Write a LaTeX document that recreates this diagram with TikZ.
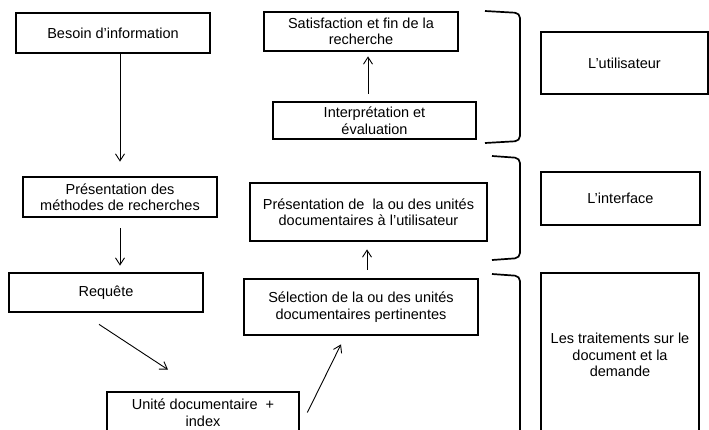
\documentclass[tikz,border=0pt]{standalone}
\usepackage{fontspec}
\setmainfont{Liberation Sans}
\usetikzlibrary{arrows.meta}
\begin{document}
\begin{tikzpicture}[x=1pt,y=-1pt,
  box/.style={draw, line width=2.7pt, align=center, inner sep=0pt,
    font=\fontsize{14.5}{16.5}\selectfont},
  arr/.style={line width=0.9pt, -{Straight Barb[length=7pt,width=9pt]}},
  brace/.style={line width=1.7pt, rounded corners=5pt}]
  \clip (0,0) rectangle (709,429);
  \fill[white] (0,0) rectangle (709,429);

  % left column
  \node[box, minimum width=194, minimum height=40] (besoin) at (113,33) {Besoin d’information};
  \node[box, minimum width=194, minimum height=40] (presmeth) at (120,197) {Présentation des\\méthodes de recherches};
  \node[box, minimum width=194, minimum height=39] (requete) at (106,292.5) {Requête};
  \node[box, minimum width=192, minimum height=41] (unite) at (203,412.5) {Unité documentaire\ \ +\\index};

  % middle column
  \node[box, minimum width=234, minimum height=56] (select) at (361,307) {Sélection de la ou des unités\\documentaires pertinentes};
  \node[box, minimum width=237, minimum height=58] (presunit) at (368.5,212) {Présentation de\ \ la ou des unités\\documentaires à l’utilisateur};
  \node[box, minimum width=203, minimum height=37] (interp) at (374.5,120.5) {Interprétation et\\évaluation};
  \node[box, minimum width=194, minimum height=39] (satis) at (361,31.5) {Satisfaction et fin de la\\recherche};

  % right column
  \node[box, minimum width=167, minimum height=62] (util) at (624.5,63) {L’utilisateur};
  \node[box, minimum width=159, minimum height=53] (interf) at (620.5,198.5) {L’interface};
  \node[box, minimum width=158, minimum height=164] (trait) at (620,355) {Les traitements sur le\\document et la\\demande};

  % connectors
  \draw[arr, shorten >=14pt] (presmeth.north |- besoin.south) -- (presmeth.north);
  \draw[arr, shorten <=10pt, shorten >=6pt] (presmeth.south) -- (presmeth.south |- requete.north);
  \draw[arr] ([shift={(-7,11)}]requete.south) -- ([shift={(-35,-21)}]unite.north);
  \draw[arr] ([shift={(7,0)}]unite.east) -- ([shift={(-20,8)}]select.south);
  \draw[arr] ([shift={(-1.5,-8)}]presunit.south |- select.north) -- ([shift={(-1.5,7)}]presunit.south);
  \draw[arr] ([shift={(-6.5,-7)}]interp.north) -- ([shift={(7,4)}]satis.south);

  % brackets grouping the steps
  \draw[brace] (485,11) -- (520,13) -- (520,141) -- (485,143);
  \draw[brace] (492,156) -- (520,158) -- (520,258) -- (492,260);
  \draw[brace] (492,274) -- (520,276) -- (520,445);
\end{tikzpicture}
\end{document}
